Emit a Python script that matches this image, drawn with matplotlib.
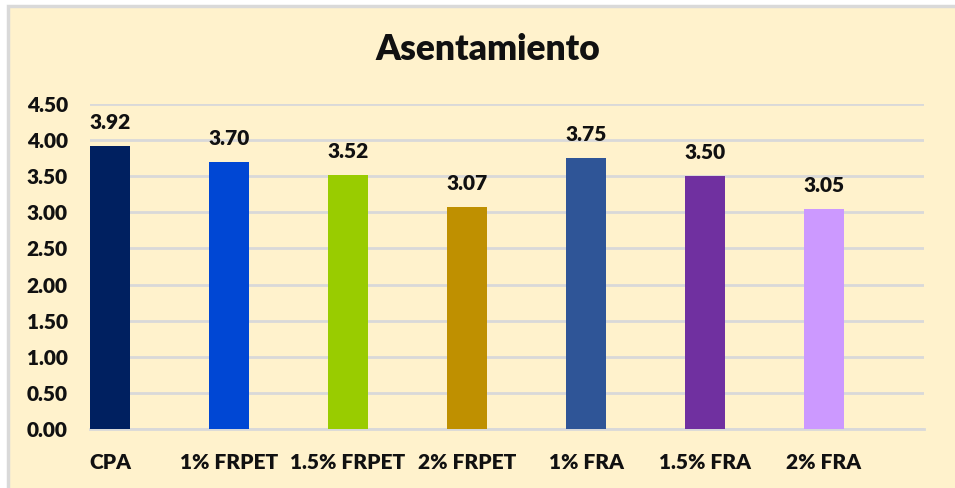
import matplotlib.pyplot as plt
from matplotlib.patches import Rectangle
import numpy as np

# data
categories = ['CPA', '1% FRPET', '1.5% FRPET', '2% FRPET', '1% FRA', '1.5% FRA', '2% FRA']
values = [3.92, 3.70, 3.52, 3.07, 3.75, 3.50, 3.05]
colors = ['#002060', '#0047D4', '#99CC00', '#BF9000', '#2F5597', '#7030A0', '#CC99FF']
yticks = [0.0, 0.5, 1.0, 1.5, 2.0, 2.5, 3.0, 3.5, 4.0, 4.5]

bg = '#FFF2CC'
grid_col = '#D9D9D9'
plt.rcParams['font.family'] = ['Lato', 'DejaVu Sans']

W, H = 955, 488
fig = plt.figure(figsize=(W / 100, H / 100), dpi=100, facecolor='white')

# chart area background with thin gray border (top/left edges visible)
fig.patches.append(Rectangle((8 / W, -0.01), 1.02 - 8 / W, (H - 6) / H + 0.01,
                             transform=fig.transFigure, facecolor=bg,
                             edgecolor=grid_col, linewidth=2.5, zorder=-1))

ax = fig.add_axes([90 / W, (H - 429) / H, (924 - 90) / W, (429 - 104) / H])
ax.set_facecolor('none')

x = np.arange(len(categories))
width = 0.336
ax.bar(x, values, width, color=colors, zorder=3)

for xi, v in zip(x, values):
    ax.annotate(f'{v:.2f}', (xi, v), xytext=(0, 10), textcoords='offset points',
                ha='center', va='bottom', fontsize=15, fontweight='heavy', color='#111111')

ax.set_xlim(-width / 2, 6.84)
ax.set_ylim(0, 4.5)
ax.set_yticks(yticks)
ax.set_yticklabels([f'{t:.2f}' for t in yticks], fontsize=15, fontweight='heavy')
ax.set_xticks(x)
ax.set_xticklabels(categories, fontsize=15, fontweight='heavy')

ax.grid(axis='y', color=grid_col, linewidth=2, zorder=0)
for s in ['top', 'right', 'left']:
    ax.spines[s].set_visible(False)
ax.spines['bottom'].set_color(grid_col)
ax.spines['bottom'].set_linewidth(2)
ax.tick_params(axis='both', length=0, colors='#111111')
ax.tick_params(axis='y', pad=16)
ax.tick_params(axis='x', pad=17)

fig.text(488 / W, 1 - 50 / H, 'Asentamiento', ha='center', va='center',
         fontsize=25.5, fontweight='heavy', color='#111111')

fig.savefig('out.png', dpi=100, facecolor=fig.get_facecolor())
